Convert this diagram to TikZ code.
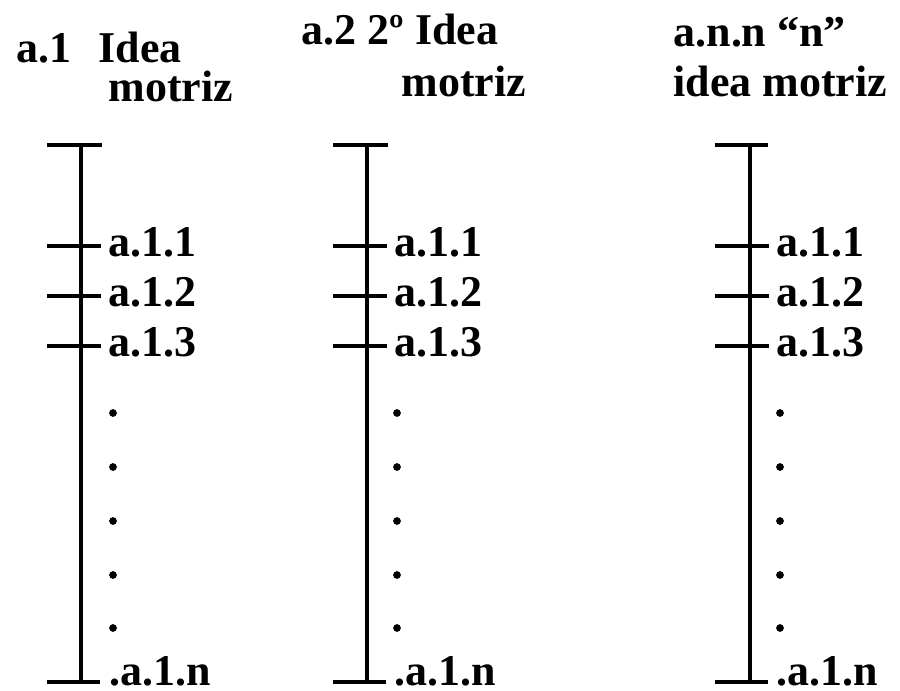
\documentclass[tikz,border=0pt]{standalone}
\usepackage{fontspec}
\setmainfont{Liberation Serif}
\usepackage{tikz}

\tikzset{
  lbl/.style={anchor=west,inner xsep=1.7pt,inner ysep=0pt,text height=8.5pt,text depth=2.3pt,font=\bfseries\fontsize{12.5}{15}\selectfont},
  head/.style={anchor=base west,inner sep=0pt,font=\bfseries\fontsize{12.5}{15}\selectfont},
  dot/.style={circle,fill=black,inner sep=0pt,minimum size=2.2pt}
}

\begin{document}
\begin{tikzpicture}[x=0.01cm,y=-0.01cm,line width=0.9pt]
\useasboundingbox (0,0) rectangle (900,691);

\node[head] (h1a) at (15,63) {a.1};
\node[head] (h1b) at (97,63) {Idea};
\node[head] (h1c) at (107,102) {motriz};
\node[head] (h2a) at (300,45) {a.2 2º Idea};
\node[head] (h2b) at (400,97) {motriz};
\node[head] (h3a) at (672,47) {a.n.n “n”};
\node[head] (h3b) at (672,97) {idea motriz};

% first column
\coordinate (t1) at (81,145);
\coordinate (b1) at (81,682);
\draw (t1) -- (b1);
\draw (t1) -- ++(-34,0) (t1) -- ++(21,0);
\draw (b1) -- ++(-34,0) (b1) -- ++(19,0);
\node[lbl] (l11) at (101,246) {a.1.1};
\node[lbl] (l12) at (101,296) {a.1.2};
\node[lbl] (l13) at (101,346) {a.1.3};
\draw (l11.west) -- ++(-54,0);
\draw (l12.west) -- ++(-54,0);
\draw (l13.west) -- ++(-54,0);
\node[dot] (d11) at (113,413) {}; \node[dot] (d12) at (113,467) {};
\node[dot] (d13) at (113,521) {}; \node[dot] (d14) at (113,575) {};
\node[dot] (d15) at (113,628) {};
\node[head] (l1n) at (108,685) {.a.1.n};

% second column
\coordinate (t2) at (367,145);
\coordinate (b2) at (367,682);
\draw (t2) -- (b2);
\draw (t2) -- ++(-34,0) (t2) -- ++(21,0);
\draw (b2) -- ++(-34,0) (b2) -- ++(19,0);
\node[lbl] (l21) at (387,246) {a.1.1};
\node[lbl] (l22) at (387,296) {a.1.2};
\node[lbl] (l23) at (387,346) {a.1.3};
\draw (l21.west) -- ++(-54,0);
\draw (l22.west) -- ++(-54,0);
\draw (l23.west) -- ++(-54,0);
\node[dot] (d21) at (397,413) {}; \node[dot] (d22) at (397,467) {};
\node[dot] (d23) at (397,521) {}; \node[dot] (d24) at (397,575) {};
\node[dot] (d25) at (397,628) {};
\node[head] (l2n) at (393,685) {.a.1.n};

% last column
\coordinate (t3) at (750,145);
\coordinate (b3) at (750,682);
\draw (t3) -- (b3);
\draw (t3) -- ++(-35,0) (t3) -- ++(18,0);
\draw (b3) -- ++(-35,0) (b3) -- ++(18,0);
\node[lbl] (l31) at (769,246) {a.1.1};
\node[lbl] (l32) at (769,296) {a.1.2};
\node[lbl] (l33) at (769,346) {a.1.3};
\draw (l31.west) -- ++(-54,0);
\draw (l32.west) -- ++(-54,0);
\draw (l33.west) -- ++(-54,0);
\node[dot] (d31) at (780,413) {}; \node[dot] (d32) at (780,467) {};
\node[dot] (d33) at (780,521) {}; \node[dot] (d34) at (780,575) {};
\node[dot] (d35) at (780,628) {};
\node[head] (l3n) at (775,685) {.a.1.n};
\end{tikzpicture}
\end{document}
